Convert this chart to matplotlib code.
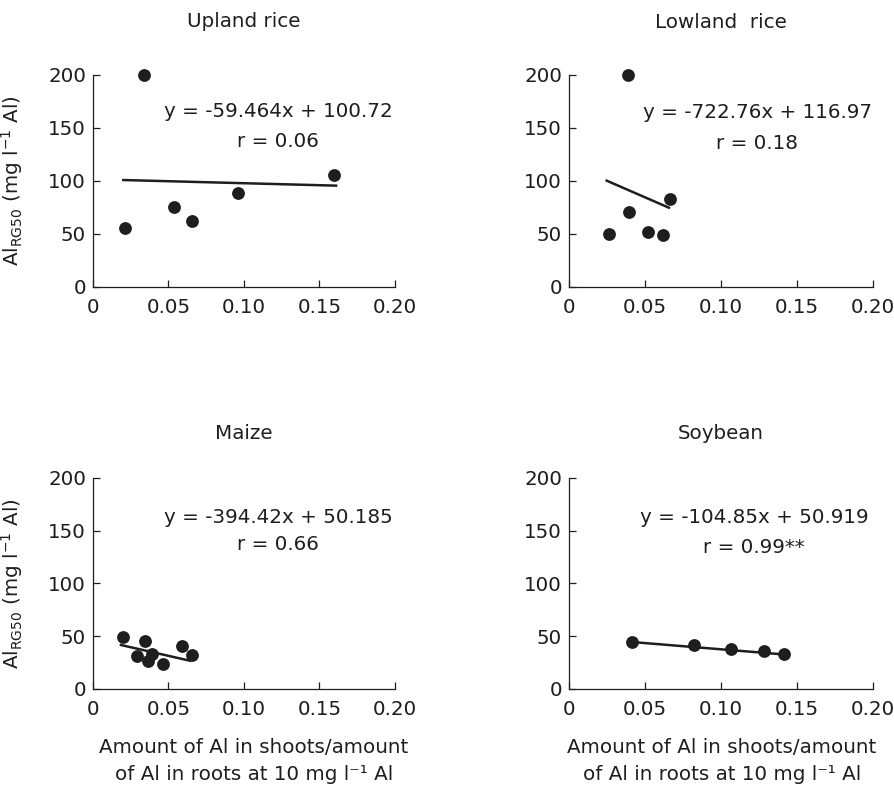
import matplotlib
matplotlib.use("Agg")
import matplotlib.pyplot as plt

plt.rcParams['font.family'] = ['DejaVu Sans']
plt.rcParams['mathtext.default'] = 'regular'
plt.rcParams['font.size'] = 14

# panel data
titles = ["Upland rice", "Lowland  rice", "Maize", "Soybean"]

upland_x = [0.0338, 0.0214, 0.0536, 0.0656, 0.0960, 0.1596]
upland_y = [200, 56, 75.8, 62, 88.4, 105.7]
lowland_x = [0.0390, 0.0265, 0.0393, 0.0518, 0.0620, 0.0664]
lowland_y = [200, 50, 70.8, 52.2, 48.8, 83]
maize_x = [0.0201, 0.0344, 0.0289, 0.0393, 0.0366, 0.0461, 0.0592, 0.0656]
maize_y = [49.6, 45.2, 31.6, 32.9, 26.8, 23.4, 40.5, 32.5]
soy_x = [0.0418, 0.0823, 0.1069, 0.1287, 0.1419]
soy_y = [44.8, 42.0, 38.2, 36.3, 33.5]

# fitted line end points as drawn
fit_x = [[0.0201, 0.1610], [0.0248, 0.0658], [0.0185, 0.0642], [0.0418, 0.1419]]
fit_y = [[100.9, 95.6], [100.3, 74.8], [41.7, 26.8], [44.5, 32.7]]

equations = ["y = -59.464x + 100.72", "y = -722.76x + 116.97",
             "y = -394.42x + 50.185", "y = -104.85x + 50.919"]
r_values = ["r = 0.06", "r = 0.18", "r = 0.66", "r = 0.99**"]

xs = [upland_x, lowland_x, maize_x, soy_x]
ys = [upland_y, lowland_y, maize_y, soy_y]

x_ticks = [0, 0.05, 0.10, 0.15, 0.20]
x_ticklabels = ["0", "0.05", "0.10", "0.15", "0.20"]
y_ticks = [0, 50, 100, 150, 200]

ylabel = r'Al$_{RG50}$ (mg l$^{-1}$ Al)'
xlabel_1 = "Amount of Al in shoots/amount"
xlabel_2 = "of Al in roots at 10 mg l\u207b\u00b9 Al"

ink = '#1e1e1e'
fs = 14.3

fig = plt.figure(figsize=(8.95, 7.85), dpi=100)

positions = [
    [0.1039, 0.6344, 0.3374, 0.2701],
    [0.6358, 0.6344, 0.3391, 0.2701],
    [0.1039, 0.1223, 0.3374, 0.2688],
    [0.6358, 0.1223, 0.3391, 0.2688],
]
eq_pos = [(0.1225, 160), (0.1243, 159), (0.1225, 157), (0.1220, 157)]
r_pos = [(0.1225, 132), (0.1236, 130.5), (0.1225, 131.5), (0.1220, 129)]
title_y = [1.225, 1.220, 1.185, 1.185]
title_x = [0.5, 0.499, 0.5, 0.5]

for i in range(4):
    ax = fig.add_axes(positions[i])
    ax.scatter(xs[i], ys[i], s=85, color=ink, zorder=3, clip_on=False, linewidths=0)
    ax.plot(fit_x[i], fit_y[i], color=ink, lw=1.8, zorder=2)

    ax.set_xlim(0, 0.2)
    ax.set_ylim(0, 200)
    ax.set_xticks(x_ticks)
    ax.set_xticklabels(x_ticklabels)
    ax.set_yticks(y_ticks)
    ax.spines['top'].set_visible(False)
    ax.spines['right'].set_visible(False)
    for sp in ['left', 'bottom']:
        ax.spines[sp].set_linewidth(0.9)
        ax.spines[sp].set_color(ink)
    ax.tick_params(axis='both', direction='in', length=5, width=0.9, color=ink,
                   labelcolor=ink, labelsize=fs)
    ax.tick_params(axis='x', pad=8)
    ax.tick_params(axis='y', pad=5)

    ax.text(eq_pos[i][0], eq_pos[i][1], equations[i], ha='center', va='baseline',
            fontsize=fs, color=ink)
    ax.text(r_pos[i][0], r_pos[i][1], r_values[i], ha='center', va='baseline',
            fontsize=fs, color=ink)
    ax.text(title_x[i], title_y[i], titles[i], transform=ax.transAxes,
            ha='center', va='baseline', fontsize=fs, color=ink)

    if i % 2 == 0:
        ax.set_ylabel(ylabel, fontsize=fs, color=ink)
        ax.yaxis.set_label_coords(-0.225, 0.5)
    if i >= 2:
        cx = 0.532 if i == 2 else 0.504
        ax.text(cx, -0.303, xlabel_1, transform=ax.transAxes, ha='center',
                va='baseline', fontsize=fs, color=ink)
        ax.text(cx, -0.431, xlabel_2, transform=ax.transAxes, ha='center',
                va='baseline', fontsize=fs, color=ink)

fig.savefig("out.png", dpi=100)
